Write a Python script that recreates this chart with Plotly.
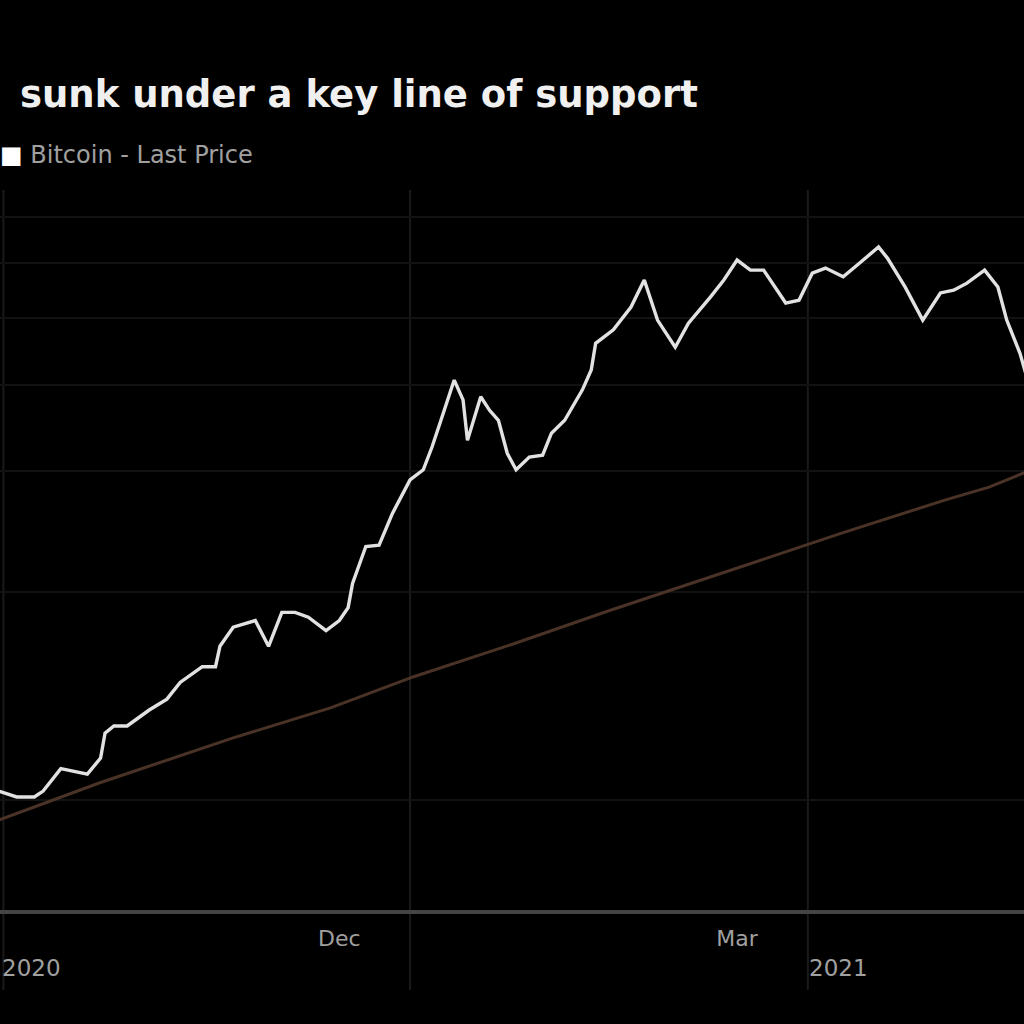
import plotly.graph_objects as go
import pandas as pd

# ---- data ----
price_dates = [
    "2020-09-30", "2020-10-04", "2020-10-08", "2020-10-10", "2020-10-14", "2020-10-17",
    "2020-10-20", "2020-10-23", "2020-10-24", "2020-10-26", "2020-10-29", "2020-11-03",
    "2020-11-07", "2020-11-10", "2020-11-15", "2020-11-18", "2020-11-19", "2020-11-22",
    "2020-11-27", "2020-11-30", "2020-12-03", "2020-12-06", "2020-12-09", "2020-12-13",
    "2020-12-16", "2020-12-18", "2020-12-19", "2020-12-22", "2020-12-25", "2020-12-28",
    "2021-01-01", "2021-01-04", "2021-01-06", "2021-01-08", "2021-01-11", "2021-01-13",
    "2021-01-14", "2021-01-17", "2021-01-19", "2021-01-21", "2021-01-23", "2021-01-25",
    "2021-01-28", "2021-01-31", "2021-02-02", "2021-02-05", "2021-02-09", "2021-02-11",
    "2021-02-12", "2021-02-16", "2021-02-20", "2021-02-23", "2021-02-26", "2021-03-02",
    "2021-03-05", "2021-03-10", "2021-03-13", "2021-03-16", "2021-03-19", "2021-03-22",
    "2021-03-27", "2021-03-30", "2021-04-02", "2021-04-05", "2021-04-09", "2021-04-13",
    "2021-04-17", "2021-04-19", "2021-04-23", "2021-04-27", "2021-05-01", "2021-05-04",
    "2021-05-07", "2021-05-11", "2021-05-14", "2021-05-16", "2021-05-19", "2021-05-22",
]
price_values = [
    10300, 10100, 10100, 10300, 11100, 11000,
    10900, 11500, 12500, 12800, 12800, 13500,
    14000, 14800, 15600, 15600, 16700, 17800,
    18200, 16700, 18700, 18700, 18400, 17600,
    18200, 19000, 20600, 23300, 23400, 26000,
    29100, 30100, 32500, 35500, 40600, 38000,
    33200, 38400, 36700, 35500, 31800, 30100,
    31400, 31600, 34000, 35500, 39300, 42000,
    45900, 48000, 51800, 56700, 49600, 45300,
    49100, 53600, 56700, 60600, 58600, 58600,
    52500, 53000, 58000, 59000, 57300, 60200,
    63300, 61000, 55400, 49600, 54300, 54800,
    56100, 58600, 55400, 49600, 44400, 38000,
]

ma_dates = [
    "2020-09-30", "2020-10-23", "2020-11-22", "2020-12-14", "2021-01-02", "2021-01-24",
    "2021-02-15", "2021-03-17", "2021-04-09", "2021-05-02", "2021-05-12", "2021-05-20",
]
ma_values = [
    9350, 10600, 12300, 13600, 15100, 16800,
    18800, 21800, 24400, 27200, 28400, 29800,
]

month_tick_dates = ["2020-12-16", "2021-03-16"]
month_tick_labels = ["Dec", "Mar"]
year_label_dates = ["2020-09-30 06:00", "2021-04-08"]
year_labels = ["2020", "2021"]
quarter_grid_dates = ["2020-10-01", "2021-01-01", "2021-04-01"]
price_grid_values = [10000, 20000, 30000, 40000, 50000, 60000, 70000]

title_text = "sunk under a key line of support"
legend_text = "Bitcoin - Last Price"

FONT = "DejaVu Sans"

# ---- figure ----
fig = go.Figure()
fig.add_trace(go.Scatter(
    x=pd.to_datetime(ma_dates), y=ma_values, mode="lines",
    line=dict(color="#4a3326", width=3), showlegend=False, hoverinfo="skip"))
fig.add_trace(go.Scatter(
    x=pd.to_datetime(price_dates), y=price_values, mode="lines",
    line=dict(color="#e2e2e2", width=3.4), showlegend=False))

for d in quarter_grid_dates:
    fig.add_shape(type="line", xref="x", yref="paper", x0=d, x1=d,
                  y0=-0.111, y1=1.0, line=dict(color="#1a1a1a", width=2), layer="below")

anchors = ["left", "center"]
for d, t, a in zip(year_label_dates, year_labels, anchors):
    fig.add_annotation(x=d, xref="x", y=-0.081, yref="paper", text=t, showarrow=False,
                       xanchor=a, yanchor="middle",
                       font=dict(family=FONT, size=23, color="#a0a0a0"))

fig.add_annotation(x=18 / 1024, xref="paper", y=1.132, yref="paper",
                   text="<b>" + title_text + "</b>", showarrow=False,
                   xanchor="left", yanchor="middle",
                   font=dict(family=FONT, size=37, color="#f0f0f0"))
fig.add_annotation(x=-2 / 1024, xref="paper", y=1.049, yref="paper",
                   text='<span style="color:#ffffff">■</span> ' + legend_text,
                   showarrow=False, xanchor="left", yanchor="middle",
                   font=dict(family=FONT, size=24, color="#a0a0a0"))

fig.update_layout(
    width=1024, height=1024,
    margin=dict(l=0, r=0, t=190, b=114),
    paper_bgcolor="#000000", plot_bgcolor="#000000",
    xaxis=dict(type="date", range=["2020-09-30 05:45", "2021-05-19 21:50"],
               showgrid=False, zeroline=False,
               tickmode="array", tickvals=month_tick_dates, ticktext=month_tick_labels,
               ticks="", ticklabelstandoff=6,
               tickfont=dict(family=FONT, size=22, color="#a0a0a0"),
               showline=True, linecolor="#454545", linewidth=4),
    yaxis=dict(type="log", range=[3.8405, 4.884], showticklabels=False,
               tickmode="array", tickvals=price_grid_values,
               gridcolor="#121212", gridwidth=2, zeroline=False, showline=False),
    showlegend=False,
)

fig.write_html("out.html", config={"displayModeBar": False},
               post_script="document.body.style.margin='0px';document.body.style.overflow='hidden';")
